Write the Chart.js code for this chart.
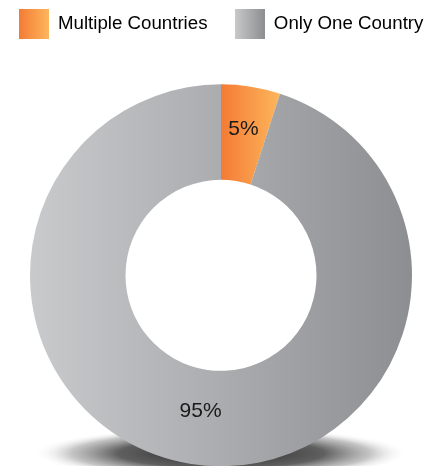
<!DOCTYPE html>
<html>
<head>
<meta charset="utf-8">
<script src="https://cdn.jsdelivr.net/npm/chart.js@4/dist/chart.umd.min.js"></script>
<style>
  html, body { margin: 0; padding: 0; background: #fff; overflow: hidden; }
  #wrap { position: relative; width: 428px; height: 466px; overflow: hidden; }
  /* canvas is wider than the window so the legend fits on one line */
  #donut { position: absolute; left: -14px; top: -12px; }
</style>
</head>
<body>
<div id="wrap"><canvas id="donut" width="470" height="519"></canvas></div>
<script>
// ---------------- Data ----------------
const categories = ['Multiple Countries', 'Only One Country'];
const shares = [5, 95];
const labelTexts = ['5%', '95%'];

// gradient stops (left -> right) per slice
const gradStops = [
    ['#f47b34', '#fdb65c'],
    ['#c9cacc', '#8d8e91']
];
const RADIUS = 191;

// ---------------- Legend swatches ----------------
function swatch(stops){
    const c = document.createElement('canvas');
    c.width = 30; c.height = 30;
    const g = c.getContext('2d');
    const lg = g.createLinearGradient(0, 0, 30, 0);
    lg.addColorStop(0, stops[0]);
    lg.addColorStop(1, stops[1]);
    g.fillStyle = lg;
    g.fillRect(0, 0, 30, 30);
    return c;
}
const swatches = gradStops.map(swatch);

// ---------------- Slice fill ----------------
function sliceFill(ctx){
    const chart = ctx.chart;
    const area = chart.chartArea;
    if(!area) return gradStops[ctx.dataIndex][1];
    const cx = (area.left + area.right) / 2;
    const total = shares.reduce((a, b) => a + b, 0);
    let before = 0;
    for(let k = 0; k < ctx.dataIndex; k++) before += shares[k];
    const a0 = -Math.PI / 2 + before / total * Math.PI * 2;
    const a1 = a0 + shares[ctx.dataIndex] / total * Math.PI * 2;
    let x0 = cx - RADIUS, x1 = cx + RADIUS;
    if(ctx.dataIndex === 0){
        x0 = cx + RADIUS * Math.cos(a0);
        x1 = cx + RADIUS * Math.cos(a1);
    }
    if(!isFinite(x0) || !isFinite(x1) || x1 - x0 < 1) return gradStops[ctx.dataIndex][1];
    const g = chart.ctx.createLinearGradient(x0, 0, x1, 0);
    g.addColorStop(0, gradStops[ctx.dataIndex][0]);
    g.addColorStop(1, gradStops[ctx.dataIndex][1]);
    return g;
}

// ---------------- Shadow under the ring ----------------
const shadowPlugin = {
    id: 'shadow',
    beforeDatasetsDraw(chart){
        const arc = chart.getDatasetMeta(0).data[0];
        if(!arc || !isFinite(arc.x)) return;
        const c = chart.ctx;
        const rx = arc.outerRadius * 0.98, ry = 26;
        c.save();
        c.translate(arc.x, arc.y + arc.outerRadius - 13);
        c.scale(1, ry / rx);
        const rg = c.createRadialGradient(0, 0, 0, 0, 0, rx);
        rg.addColorStop(0, 'rgba(25,25,25,0.95)');
        rg.addColorStop(0.55, 'rgba(55,55,55,0.8)');
        rg.addColorStop(0.8, 'rgba(110,110,110,0.4)');
        rg.addColorStop(1, 'rgba(255,255,255,0)');
        c.fillStyle = rg;
        c.beginPath();
        c.arc(0, 0, rx, 0, Math.PI * 2);
        c.fill();
        c.restore();
    }
};

// ---------------- Value labels ----------------
const labelPlugin = {
    id: 'sliceLabels',
    afterDatasetsDraw(chart){
        const c = chart.ctx;
        c.save();
        c.font = '21px "Liberation Sans", Arial, sans-serif';
        c.fillStyle = '#1a1a1a';
        c.textAlign = 'center';
        c.textBaseline = 'middle';
        chart.getDatasetMeta(0).data.forEach((arc, i) => {
            const p = arc.tooltipPosition();
            c.fillText(labelTexts[i], p.x + (i === 0 ? 0 : 2), p.y + (i === 0 ? -5 : -6));
        });
        c.restore();
    }
};

// ---------------- Chart ----------------
new Chart(document.getElementById('donut').getContext('2d'), {
    type: 'doughnut',
    data: {
        labels: categories,
        datasets: [{
            data: shares,
            backgroundColor: sliceFill,
            borderWidth: 0,
            hoverOffset: 0
        }]
    },
    options: {
        responsive: false,
        animation: false,
        radius: RADIUS,
        cutout: '50%',
        plugins: {
            tooltip: { enabled: false },
            legend: {
                position: 'top',
                labels: {
                    usePointStyle: true,
                    pointStyleWidth: 30,
                    padding: 27,
                    color: '#777777',
                    font: { size: 18.7, family: '"Liberation Sans", Arial, sans-serif' },
                    generateLabels: chart => categories.map((t, i) => ({
                        text: t,
                        pointStyle: swatches[i],
                        fillStyle: gradStops[i][0],
                        strokeStyle: 'transparent',
                        lineWidth: 0,
                        hidden: false,
                        index: i
                    }))
                }
            }
        }
    },
    plugins: [shadowPlugin, labelPlugin]
});
</script>
</body>
</html>
